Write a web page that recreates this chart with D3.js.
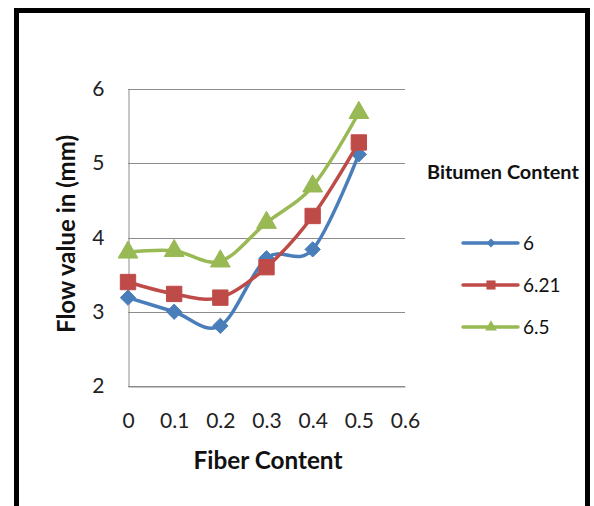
<!DOCTYPE html>
<html>
<head>
<meta charset="utf-8">
<script src="https://cdn.jsdelivr.net/npm/d3@7"></script>
<style>
    body { margin: 0; background: #fff; }
    svg { display: block; font-family: Lato, "Open Sans", sans-serif; }
</style>
</head>
<body>
<div id="chart"></div>
<script>
const WIDTH = 594;
const HEIGHT = 506;

// data
const fiberContent = [0, 0.1, 0.2, 0.3, 0.4, 0.5];
const bitumenLabels = ["6", "6.21", "6.5"];
const flow6 = [3.19, 3.0, 2.81, 3.72, 3.84, 5.12];
const flow621 = [3.40, 3.24, 3.19, 3.60, 4.29, 5.28];
const flow65 = [3.80, 3.82, 3.68, 4.20, 4.69, 5.68];
const xTicks = [0, 0.1, 0.2, 0.3, 0.4, 0.5, 0.6];
const yTicks = [2, 3, 4, 5, 6];

const COLORS = ["#4a7ebb", "#be4b48", "#98b954"];
const SYMBOLS = [d3.symbolDiamond2, d3.symbolSquare2, d3.symbolTriangle2];
const MARKER_SIZE = [150, 300, 280];

const series = [flow6, flow621, flow65].map((vals, i) => ({
    name: bitumenLabels[i],
    color: COLORS[i],
    symbol: SYMBOLS[i],
    size: MARKER_SIZE[i],
    points: vals.map((v, j) => ({x: fiberContent[j], y: v}))
}));

const svg = d3.select("#chart").append("svg")
    .attr("width", WIDTH)
    .attr("height", HEIGHT);

svg.append("rect")
    .attr("width", WIDTH).attr("height", HEIGHT)
    .attr("fill", "#fff");

// black frame around the chart
svg.append("rect")
    .attr("x", 16.5).attr("y", 10.5)
    .attr("width", 571).attr("height", 510)
    .attr("fill", "none")
    .attr("stroke", "#000")
    .attr("stroke-width", 5);

const x = d3.scaleLinear().domain([0, 0.6]).range([128, 405]);
const y = d3.scaleLinear().domain([2, 6]).range([386, 89]);

// gridlines
svg.append("g")
    .selectAll("line")
    .data(yTicks)
    .enter()
    .append("line")
    .attr("x1", x(0)).attr("x2", x(0.6))
    .attr("y1", d => Math.round(y(d)) + 0.5)
    .attr("y2", d => Math.round(y(d)) + 0.5)
    .attr("stroke", "#8c8c8c")
    .attr("stroke-width", 1);

// axes (no tick marks, labels only)
const yAxis = svg.append("g")
    .attr("transform", `translate(${Math.round(x(0)) + 0.5},0)`)
    .call(d3.axisLeft(y).tickValues(yTicks).tickSize(0).tickPadding(24).tickFormat(d3.format("d")));
yAxis.select(".domain").attr("stroke", "#8c8c8c");
yAxis.selectAll("text")
    .attr("font-size", 21)
    .attr("font-family", "Lato, sans-serif")
    .attr("fill", "#222");

const xAxis = svg.append("g")
    .attr("transform", `translate(0,${Math.round(y(2)) + 0.5})`)
    .call(d3.axisBottom(x).tickValues(xTicks).tickSize(0).tickPadding(27)
        .tickFormat(d => d === 0 ? "0" : d3.format(".1f")(d)));
xAxis.select(".domain").attr("stroke", "#8c8c8c");
xAxis.selectAll("text")
    .attr("font-size", 21)
    .attr("font-family", "Lato, sans-serif")
    .attr("fill", "#222");

// smoothed lines
const line = d3.line()
    .x(d => x(d.x))
    .y(d => y(d.y))
    .curve(d3.curveCardinal.tension(0));

const g = svg.append("g");
series.forEach(s => {
    g.append("path")
        .datum(s.points)
        .attr("d", line)
        .attr("fill", "none")
        .attr("stroke", s.color)
        .attr("stroke-width", 3.5)
        .attr("stroke-linejoin", "round");
    g.selectAll(null)
        .data(s.points)
        .enter()
        .append("path")
        .attr("d", d3.symbol().type(s.symbol).size(s.size))
        .attr("transform", d => `translate(${x(d.x)},${y(d.y)})`)
        .attr("fill", s.color)
        .attr("stroke", s.color)
        .attr("stroke-width", 1);
});

// shrink/grow a bold title so it covers the same width as in the picture
function fitTitle(sel, width) {
    const w = sel.node().getComputedTextLength();
    const fs = +sel.attr("font-size");
    sel.attr("font-size", (fs * width / w).toFixed(1));
}

// axis titles
const xTitle = svg.append("text")
    .attr("x", 268).attr("y", 469)
    .attr("text-anchor", "middle")
    .attr("font-size", 20)
    .attr("font-weight", "bold")
    .attr("fill", "#111")
    .text("Fiber Content");
fitTitle(xTitle, 149);

const yTitle = svg.append("text")
    .attr("transform", "translate(75,234) rotate(-90)")
    .attr("text-anchor", "middle")
    .attr("font-size", 20)
    .attr("font-weight", "bold")
    .attr("fill", "#111")
    .text("Flow value in (mm)");
fitTitle(yTitle, 198);

// legend
const legendTitle = svg.append("text")
    .attr("x", 427).attr("y", 179)
    .attr("font-size", 17)
    .attr("font-weight", "bold")
    .attr("fill", "#111")
    .text("Bitumen Content");
fitTitle(legendTitle, 152);

const legend = svg.append("g")
    .selectAll("g")
    .data(series)
    .enter()
    .append("g")
    .attr("transform", (d, i) => `translate(463,${243 + i * 42})`);

legend.append("line")
    .attr("x1", 0).attr("x2", 55)
    .attr("stroke", d => d.color)
    .attr("stroke-width", 3.5)
    .attr("stroke-linecap", "round");

legend.append("path")
    .attr("d", d => d3.symbol().type(d.symbol).size(d.size * 0.35)())
    .attr("transform", "translate(28,0)")
    .attr("fill", d => d.color);

legend.append("text")
    .attr("x", 60).attr("y", 7)
    .attr("font-size", 19)
    .attr("fill", "#111")
    .text(d => d.name);
</script>
</body>
</html>
